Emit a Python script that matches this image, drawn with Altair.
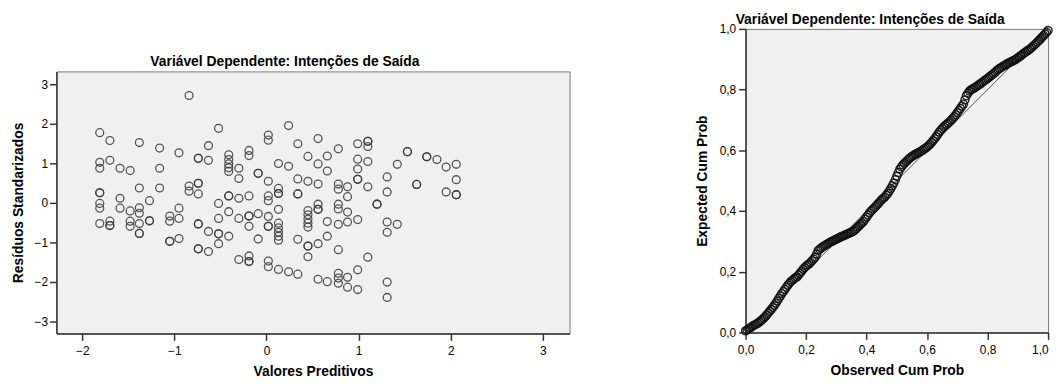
import altair as alt
import pandas as pd

FONT = "Liberation Sans"
TITLE = "Variável Dependente: Intenções de Saída"

# ---- Left panel: standardized residuals vs predicted values ----
pred = [
    -0.84, -1.81, -1.70, -1.38, -1.16, -0.95, -0.63, -0.74, -0.63, -1.81,
    -1.81, -1.70, -1.59, -1.48, -1.16, -1.38, -1.16, -0.84, -0.84, -0.74,
    -0.74, -1.81, -1.81, -1.81, -1.59, -1.59, -1.48, -1.38, -1.38, -1.27,
    -0.95, -1.05, -1.05, -0.95, -1.81, -1.70, -1.70, -1.48, -1.48, -1.38,
    -1.27, -1.38, -1.05, -0.95, -0.74, -0.63, -0.74, -0.63,
    -0.52, 0.02, 0.02, 0.24, 0.56, 0.34, -0.19, -0.19, -0.41, -0.41,
    -0.41, -0.41, -0.41, -0.30, -0.30, -0.09, 0.02, 0.13, 0.24, 0.45,
    0.56, 0.66, 0.66, 0.34, 0.45, 0.56, 0.13, 0.13, 0.34, 0.02,
    0.02, -0.41, -0.30, -0.19, -0.52, -0.41, -0.52, -0.30, -0.19, -0.19,
    -0.09, 0.02, 0.02, 0.13, 0.13, 0.13, 0.13, 0.13, 0.13, -0.52,
    -0.41, -0.52, -0.09, 0.34, 0.45, 0.45, 0.45, 0.45, 0.45, 0.56,
    0.56, 0.66, 0.45, 0.45, 0.56, 0.66, -0.30, -0.19, -0.19, 0.02,
    0.02, 0.13, 0.24, 0.34, 0.56, 0.66,
    0.78, 0.99, 1.10, 1.10, 0.99, 1.10, 0.99, 0.99, 1.10, 1.42,
    1.53, 1.31, 1.31, 1.63, 1.74, 1.85, 1.95, 2.06, 2.06, 1.95,
    2.06, 0.78, 0.78, 0.88, 0.88, 0.78, 0.78, 0.88, 1.20, 0.78,
    0.88, 0.99, 1.31, 1.42, 1.31, 0.78, 1.10, 0.99, 0.78, 0.78,
    0.78, 0.88, 0.88, 0.99, 1.31, 1.31,
    # overlapping (darker) circles
    -1.81, -1.70, -1.38, -1.05, -0.74, -0.74, -0.74, -1.27, -0.74, -0.09,
    -0.41, -0.19, 0.02, 0.13, 0.34, 0.56, 0.45, -0.19, -0.52, 0.99,
    1.10, 1.53, 1.63, 1.74, 2.06, 1.20,
]
resid = [
    2.72, 1.78, 1.58, 1.53, 1.39, 1.27, 1.45, 1.13, 1.08, 1.03,
    0.88, 1.08, 0.88, 0.82, 0.88, 0.38, 0.38, 0.43, 0.30, 0.50,
    0.23, 0.26, -0.01, -0.13, 0.12, -0.13, -0.20, -0.12, -0.26, 0.06,
    -0.13, -0.33, -0.46, -0.39, -0.52, -0.46, -0.57, -0.46, -0.59, -0.52,
    -0.45, -0.77, -0.97, -0.90, -0.53, -0.72, -1.16, -1.23,
    1.89, 1.72, 1.59, 1.96, 1.63, 1.50, 1.33, 1.20, 1.22, 1.10,
    0.99, 0.89, 0.80, 0.88, 0.62, 0.75, 0.55, 1.00, 0.93, 1.18,
    0.99, 1.19, 0.81, 0.61, 0.55, 0.48, 0.37, 0.24, 0.23, 0.18,
    0.06, 0.18, 0.12, 0.18, -0.01, -0.22, -0.39, -0.39, -0.33, -0.59,
    -0.27, -0.34, -0.59, -0.16, -0.51, -0.63, -0.74, -0.84, -0.94, -0.78,
    -0.84, -1.03, -0.91, -0.92, -0.19, -0.30, -0.41, -0.51, -0.61, -0.03,
    -0.16, -0.47, -1.09, -1.36, -1.03, -0.84, -1.43, -1.34, -1.48, -1.47,
    -1.61, -1.68, -1.74, -1.80, -1.93, -1.99,
    1.37, 1.50, 1.56, 1.43, 1.11, 1.05, 0.86, 0.60, 0.41, 0.98,
    1.30, 0.66, 0.28, 0.47, 1.17, 1.10, 0.91, 0.98, 0.59, 0.28,
    0.21, 0.48, 0.35, 0.41, 0.16, -0.03, -0.15, -0.23, -0.03, -0.54,
    -0.48, -0.42, -0.48, -0.54, -0.74, -1.18, -1.37, -1.69, -1.78, -1.90,
    -2.03, -1.88, -2.13, -2.19, -2.00, -2.39,
    # overlapping (darker) circles
    0.26, -0.57, -0.77, -0.97, -1.16, 1.13, 0.50, -0.45, -0.53, 0.75,
    0.18, -0.33, -0.59, 0.24, 0.23, -0.16, -1.09, -1.48, -0.78, 0.60,
    1.56, 1.30, 0.47, 1.17, 0.21, -0.03,
]
x_ticks_left = [-2, -1, 0, 1, 2, 3]
y_ticks_left = [-3, -2, -1, 0, 1, 2, 3]

# ---- Right panel: normal P-P plot ----
obs_cum = [
    0.00, 0.01, 0.02, 0.03, 0.04, 0.05, 0.06, 0.07, 0.08, 0.09,
    0.10, 0.11, 0.12, 0.13, 0.14, 0.15, 0.16, 0.17, 0.18, 0.19,
    0.20, 0.21, 0.22, 0.23, 0.24, 0.25, 0.26, 0.27, 0.28, 0.29,
    0.30, 0.31, 0.32, 0.33, 0.34, 0.35, 0.36, 0.37, 0.38, 0.39,
    0.40, 0.41, 0.42, 0.43, 0.44, 0.45, 0.46, 0.47, 0.48, 0.49,
    0.50, 0.51, 0.52, 0.53, 0.54, 0.55, 0.56, 0.57, 0.58, 0.59,
    0.60, 0.61, 0.62, 0.63, 0.64, 0.65, 0.66, 0.67, 0.68, 0.69,
    0.70, 0.71, 0.72, 0.73, 0.74, 0.75, 0.76, 0.77, 0.78, 0.79,
    0.80, 0.81, 0.82, 0.83, 0.84, 0.85, 0.86, 0.87, 0.88, 0.89,
    0.90, 0.91, 0.92, 0.93, 0.94, 0.95, 0.96, 0.97, 0.98, 0.99,
    1.00,
]
exp_cum = [
    0.005, 0.012, 0.018, 0.025, 0.030, 0.038, 0.047, 0.058, 0.070, 0.082,
    0.096, 0.112, 0.128, 0.142, 0.156, 0.168, 0.176, 0.183, 0.195, 0.208,
    0.218, 0.226, 0.236, 0.248, 0.270, 0.278, 0.285, 0.291, 0.297, 0.302,
    0.307, 0.312, 0.317, 0.321, 0.326, 0.330, 0.336, 0.346, 0.356, 0.366,
    0.380, 0.394, 0.405, 0.415, 0.426, 0.437, 0.446, 0.458, 0.474, 0.492,
    0.515, 0.538, 0.552, 0.562, 0.572, 0.580, 0.586, 0.591, 0.597, 0.604,
    0.611, 0.620, 0.632, 0.645, 0.660, 0.672, 0.682, 0.690, 0.700, 0.711,
    0.724, 0.738, 0.752, 0.780, 0.795, 0.802, 0.808, 0.815, 0.822, 0.830,
    0.837, 0.845, 0.853, 0.862, 0.870, 0.876, 0.882, 0.888, 0.893, 0.898,
    0.905, 0.912, 0.920, 0.927, 0.934, 0.943, 0.952, 0.962, 0.973, 0.983,
    0.995,
]
obs_cum_b = [
    0.005, 0.015, 0.025, 0.035, 0.045, 0.055, 0.065, 0.075, 0.085, 0.095,
    0.105, 0.115, 0.125, 0.135, 0.145, 0.155, 0.165, 0.175, 0.185, 0.195,
    0.205, 0.215, 0.225, 0.235, 0.245, 0.255, 0.265, 0.275, 0.285, 0.295,
    0.305, 0.315, 0.325, 0.335, 0.345, 0.355, 0.365, 0.375, 0.385, 0.395,
    0.405, 0.415, 0.425, 0.435, 0.445, 0.455, 0.465, 0.475, 0.485, 0.495,
    0.505, 0.515, 0.525, 0.535, 0.545, 0.555, 0.565, 0.575, 0.585, 0.595,
    0.605, 0.615, 0.625, 0.635, 0.645, 0.655, 0.665, 0.675, 0.685, 0.695,
    0.705, 0.715, 0.725, 0.735, 0.745, 0.755, 0.765, 0.775, 0.785, 0.795,
    0.805, 0.815, 0.825, 0.835, 0.845, 0.855, 0.865, 0.875, 0.885, 0.895,
    0.905, 0.915, 0.925, 0.935, 0.945, 0.955, 0.965, 0.975, 0.985, 0.995,
]
exp_cum_b = [
    0.008, 0.015, 0.022, 0.027, 0.034, 0.042, 0.052, 0.064, 0.076, 0.089,
    0.104, 0.120, 0.135, 0.149, 0.162, 0.172, 0.180, 0.189, 0.201, 0.213,
    0.222, 0.231, 0.242, 0.258, 0.274, 0.282, 0.288, 0.294, 0.300, 0.305,
    0.310, 0.315, 0.319, 0.324, 0.328, 0.333, 0.341, 0.351, 0.361, 0.373,
    0.387, 0.400, 0.410, 0.421, 0.432, 0.442, 0.452, 0.466, 0.483, 0.503,
    0.527, 0.545, 0.557, 0.567, 0.576, 0.583, 0.589, 0.594, 0.600, 0.607,
    0.615, 0.626, 0.638, 0.652, 0.666, 0.677, 0.686, 0.695, 0.705, 0.717,
    0.731, 0.745, 0.766, 0.788, 0.799, 0.805, 0.811, 0.818, 0.826, 0.833,
    0.841, 0.849, 0.857, 0.866, 0.873, 0.879, 0.885, 0.890, 0.895, 0.901,
    0.908, 0.916, 0.923, 0.930, 0.938, 0.947, 0.957, 0.967, 0.978, 0.989,
]
diag = [0.0, 1.0]
pp_ticks = [0.0, 0.2, 0.4, 0.6, 0.8, 1.0]

df_res = pd.DataFrame({"pred": pred, "resid": resid})
df_pp = pd.DataFrame({"obs": obs_cum + obs_cum_b, "exp": exp_cum + exp_cum_b})
df_diag = pd.DataFrame({"obs": diag, "exp": diag})
df_title = pd.DataFrame({"t": [TITLE]})
df_one = pd.DataFrame({"z": [0]})

comma = "replace(format(datum.value, '.1f'), '.', ',')"
panel_view = alt.ViewBackground(fill="#f0f0f0", stroke="#777777", strokeWidth=1)

# Left panel
xl = alt.X("pred:Q", scale=alt.Scale(domain=[-2.28, 3.29], nice=False, zero=False),
           axis=alt.Axis(values=x_ticks_left, title="Valores Preditivos", format="d",
                         labelPadding=5, titlePadding=9))
yl = alt.Y("resid:Q", scale=alt.Scale(domain=[-3.3, 3.33], nice=False, zero=False),
           axis=alt.Axis(values=y_ticks_left, title="Resíduos Standarizados", format="d",
                         labelPadding=2, titlePadding=9))

pts_left = alt.Chart(df_res).mark_point(
    shape="circle", filled=False, size=64, color="#3a3a3a", strokeWidth=1.3, opacity=0.85
).encode(x=xl, y=yl)

title_left = alt.Chart(df_title).mark_text(
    font=FONT, fontSize=14, fontWeight="bold", color="black", align="center", baseline="top"
).encode(x=alt.value(231), y=alt.value(-16), text="t:N")

left = alt.layer(pts_left, title_left).properties(width=519, height=265, view=panel_view)

# invisible block above the left panel so that it sits lower than the right one
spacer = alt.Chart(df_one).mark_rule(color="white", strokeOpacity=0).encode(
    x=alt.value(0), y=alt.value(5), y2=alt.value(10)
).properties(width=519, height=26,
             view=alt.ViewBackground(fill="white", stroke="white", fillOpacity=0, strokeOpacity=0))

left_col = alt.vconcat(spacer, left, spacing=0)

# Right panel
xr = alt.X("obs:Q", scale=alt.Scale(domain=[0, 1], nice=False),
           axis=alt.Axis(values=pp_ticks, title="Observed Cum Prob", labelExpr=comma,
                         labelFlush=False,
                         labelAlign={"condition": {"test": "datum.value >= 1", "value": "right"},
                                     "value": "center"},
                         labelPadding=5, titlePadding=9))
yr = alt.Y("exp:Q", scale=alt.Scale(domain=[0, 1], nice=False),
           axis=alt.Axis(values=pp_ticks, title="Expected Cum Prob", labelExpr=comma,
                         labelFlush=False, labelPadding=3, titlePadding=10))

diag_line = alt.Chart(df_diag).mark_line(color="#555555", strokeWidth=1).encode(x=xr, y=yr)
pts_right = alt.Chart(df_pp).mark_point(
    shape="circle", filled=False, size=64, color="#111111", strokeWidth=1.5, opacity=0.9
).encode(x=xr, y=yr)

title_right = alt.Chart(df_title).mark_text(
    font=FONT, fontSize=14, fontWeight="bold", color="black", align="center", baseline="top"
).encode(x=alt.value(126), y=alt.value(-16), text="t:N")

right = alt.layer(diag_line, pts_right, title_right).properties(
    width=306, height=307, view=panel_view)

chart = alt.hconcat(left_col, right, spacing=125).configure_axis(
    grid=False, domainColor="#333333", domainWidth=1.5, tickColor="#333333", tickWidth=1.5,
    tickSize=7, labelFont=FONT, labelFontSize=12, labelColor="black",
    titleFont=FONT, titleFontSize=14, titleFontWeight="bold", titleColor="black",
).properties(padding={"left": 2, "top": 2, "right": 0, "bottom": 0})

chart.save("out.html", embed_options={"renderer": "svg", "actions": False})
